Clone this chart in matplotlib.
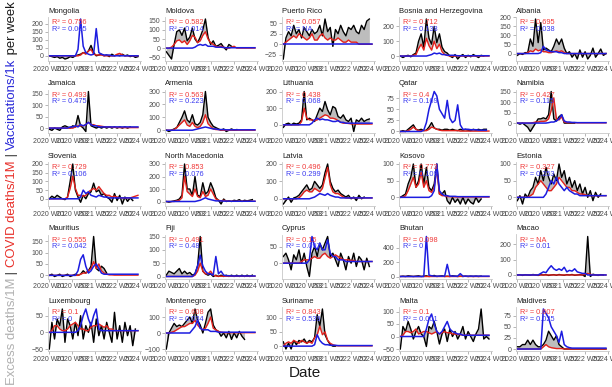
import numpy as np
import matplotlib.pyplot as plt

nan = np.nan

# weekly index from 2020 W01, one value read every 6 weeks
weeks = np.arange(0, 209, 6)

countries = ["Mongolia", "Moldova", "Puerto Rico", "Bosnia and Herzegovina", "Albania",
             "Jamaica", "Armenia", "Lithuania", "Qatar", "Namibia",
             "Slovenia", "North Macedonia", "Latvia", "Kosovo", "Estonia",
             "Mauritius", "Fiji", "Cyprus", "Bhutan", "Macao",
             "Luxembourg", "Montenegro", "Suriname", "Malta", "Maldives"]

r2_covid = ["0.756", "0.582", "0.057", "0.712", "0.695",
            "0.493", "0.563", "0.438", "0.4", "0.427",
            "0.729", "0.853", "0.496", "0.773", "0.327",
            "0.555", "0.491", "0.15", "0.098", "NA",
            "0.1", "0.608", "0.843", "0.1", "0.607"]
r2_vax = ["0.005", "0.014", "NA", "0.138", "0.038",
          "0.475", "0.223", "0.068", "0.169", "0.115",
          "0.106", "0.076", "0.299", "0.109", "0.253",
          "0.042", "0.48", "0.097", "0", "0.01",
          "0", "0.034", "0.539", "0.001", "0.025"]

y_ticks = {
    "Mongolia": [0, 50, 100, 150, 200], "Moldova": [-50, 0, 50, 100, 150],
    "Puerto Rico": [-25, 0, 25, 50], "Bosnia and Herzegovina": [0, 100, 200, 300],
    "Albania": [-50, 0, 50, 100, 150, 200], "Jamaica": [0, 50, 100, 150],
    "Armenia": [0, 100, 200, 300], "Lithuania": [0, 100, 200], "Qatar": [0, 25, 50, 75],
    "Namibia": [0, 50, 100, 150], "Slovenia": [-50, 0, 50, 100, 150, 200],
    "North Macedonia": [0, 100, 200, 300], "Latvia": [0, 100, 200], "Kosovo": [0, 50, 100],
    "Estonia": [-50, 0, 50, 100, 150], "Mauritius": [0, 50, 100, 150],
    "Fiji": [0, 50, 100, 150], "Cyprus": [-50, 0, 50], "Bhutan": [0, 200, 400, 600],
    "Macao": [0, 100, 200], "Luxembourg": [-50, 0, 50], "Montenegro": [-100, 0, 100],
    "Suriname": [0, 50, 100], "Malta": [-50, 0, 50, 100], "Maldives": [0, 25, 50, 75],
}

excess = {
    "Mongolia": [0, -5, -10, -5, -15, -10, -20, -15, -5, -10, 0, 5, 10, 20, 15, 30, 65, 20, 0, 5, 10, 0, 5, -5, 10, 0, 5, 0, 10, 0, 5, -5, 0, -10, -5],
    "Moldova": [-20, -40, -60, 20, 90, 100, 70, 110, 40, 60, 110, 50, 30, 60, 100, 160, 60, 20, 40, 10, 15, 25, 5, -10, 20, 10, nan, nan, nan, nan, nan, nan, nan, nan, nan],
    "Puerto Rico": [-35, 15, 30, 20, 45, 25, 35, 15, 40, 30, 20, 35, 25, 30, 45, 20, 60, 30, 40, -5, 35, 25, 45, 30, 20, 40, 35, 45, 30, 25, 45, 35, 55, 60, nan],
    "Bosnia and Herzegovina": [0, -10, 0, 5, -5, 10, 20, 100, 150, 60, 250, 120, 80, 200, 90, 150, 60, 30, 20, 0, -10, 10, -20, 0, 10, -10, 5, -5, 10, 0, -10, 5, 0, nan, nan],
    "Albania": [-10, 0, -5, 5, 5, 80, 40, 190, 60, 170, 20, 30, 20, 10, 40, 80, 50, 80, 30, 0, 10, -20, 0, -30, 20, -20, 10, -30, -10, 30, -20, 0, 25, -10, 0],
    "Jamaica": [-5, -10, 0, -5, -10, 5, 10, 5, 0, 10, 5, 55, 10, 0, -15, 160, 10, 5, 0, 5, 0, 5, 0, 5, 0, 5, 0, 5, 0, 5, 0, 5, nan, nan, nan],
    "Armenia": [0, -10, 0, 10, 20, 60, 100, 150, 80, 60, 120, 50, 40, 60, 120, 300, 100, 60, 30, 20, 10, 0, 10, -10, 0, 10, 0, 5, nan, nan, nan, nan, nan, nan, nan],
    "Lithuania": [-15, 5, 10, 0, 10, 5, 10, 30, 200, 30, 40, 30, 20, 60, 100, 80, 140, 90, 60, 110, 100, 50, 40, 60, 30, 20, 40, -40, 30, 20, 40, 20, 30, 35, nan],
    "Qatar": [0, 2, 0, 5, 10, 15, 5, 3, 5, 2, 3, 10, 20, 8, 5, 5, 3, 5, 5, 3, 5, 3, 2, 5, 3, 5, 3, 2, 5, 3, 5, 3, 5, 5, nan],
    "Namibia": [0, -5, 0, -10, -20, -40, -20, 0, 20, 20, 25, 20, 40, 150, 20, 10, 30, 40, 0, 0, 0, 0, 0, nan, nan, nan, nan, nan, nan, nan, nan, nan, nan, nan, nan],
    "Slovenia": [0, 15, 5, 20, 10, 0, -5, 10, 100, 200, 50, 10, -20, 20, 0, 30, 40, 90, 40, 50, 20, 30, 10, 0, -20, 30, -10, 20, -30, 10, -15, 5, -10, nan, nan],
    "North Macedonia": [0, -5, 0, 5, 10, 20, 50, 300, 100, 100, 50, 200, 50, 40, 150, 60, 80, 150, 100, 30, 10, -20, 20, 0, 5, 0, 10, 5, 15, 0, 10, 5, 10, 15, nan],
    "Latvia": [-30, -10, 10, -20, 5, 10, 20, 40, 60, 80, 50, 60, 100, 80, 60, 80, 150, 200, 100, 60, 40, 50, 30, 20, 10, 20, 0, 10, -10, 20, 0, 10, nan, nan, nan],
    "Kosovo": [0, 5, 10, 40, 60, 100, 30, 50, 100, 40, 90, 30, 20, 40, 100, 10, 10, 20, -10, -20, 0, -15, -5, -20, 0, -20, -5, -15, -20, 0, -15, -5, nan, nan, nan],
    "Estonia": [-10, 5, -20, 10, 0, 20, 30, 60, 40, 80, 50, 90, 60, 40, 70, 50, 100, 60, 80, 40, 60, 30, 50, 20, 40, 10, 30, 0, 20, -10, 15, 0, 10, nan, nan],
    "Mauritius": [0, 5, -5, 0, 5, -5, 0, 5, -5, 0, 5, 0, 5, 20, 10, 20, 40, 170, 30, 20, 40, 30, 10, nan, nan, nan, nan, nan, nan, nan, nan, nan, nan, nan, nan],
    "Fiji": [5, 20, 15, 10, 20, 30, 10, 20, 10, 15, 5, 10, 40, 150, 20, 10, 5, 10, 0, 5, 0, 5, 0, 5, 0, 5, 0, 5, 0, 5, 0, 5, 0, 5, nan],
    "Cyprus": [20, 30, 10, -20, 25, 10, 40, 0, 30, -10, -40, 30, 50, 20, 60, 40, 60, 80, 20, 30, 10, -10, 30, 10, -20, 20, 0, 30, -10, 20, 10, -20, 15, -10, nan],
    "Bhutan": [0, 5, 0, 10, 5, 0, 5, 10, 0, 5, 10, 0, 5, 15, 0, 5, 10, 0, 5, 0, 10, 5, 0, 5, 0, 5, 0, 5, 0, 5, 0, 5, nan, nan, nan],
    "Macao": [0, 2, -3, 2, 0, -2, 3, 0, -3, 2, 0, 2, -3, 0, 2, -2, 3, 0, -2, 2, 0, 3, -2, 0, 2, 0, -10, 250, -10, 5, 0, -3, 2, 0, nan],
    "Luxembourg": [-50, 30, -20, 40, 20, 70, -30, 40, 20, -20, 30, -10, 50, -20, 20, 0, 30, -30, 40, -10, 20, -20, 30, 0, -30, 60, -20, 20, -30, 30, -10, 20, -40, 10, nan],
    "Montenegro": [-100, 0, 30, 60, 40, 50, 40, 60, 80, 100, 60, 150, 80, 50, 0, 60, 130, 150, 50, 20, 10, -20, 0, -30, 10, -40, 0, -30, 10, -20, -40, nan, nan, nan, nan],
    "Suriname": [15, -10, 10, -10, 20, 5, 20, 15, 25, 10, 20, 15, 30, 110, 70, 130, 40, 20, 5, 0, 0, nan, nan, nan, nan, nan, nan, nan, nan, nan, nan, nan, nan, nan, nan],
    "Malta": [-50, 40, 20, 60, 30, -10, 20, 40, 10, 0, -40, 40, 30, 60, 20, -30, 10, 30, -20, 30, 0, 20, -10, 10, 40, -10, 20, 0, -20, 10, 30, 110, -10, 0, -10],
    "Maldives": [5, 5, 10, 10, 20, 10, 20, 10, 5, 5, 10, 20, 40, 30, 20, 30, 10, 5, 0, 0, 0, 0, 0, 0, 0, 0, 0, 0, 0, 0, 0, 0, 0, 0, 0],
}

covid = {
    "Mongolia": [0, 0, 0, 0, 0, 0, 0, 0, 0, 0, 0, 0, 5, 20, 10, 30, 40, 10, 5, 5, 5, 0, 0, 0, 0, 0, 10, 15, 5, 0, 0, 0, 0, 0, 0],
    "Moldova": [0, 0, 5, 20, 40, 45, 30, 40, 20, 40, 70, 60, 30, 40, 70, 90, 50, 30, 20, 10, 5, 10, 5, 0, 0, 5, 10, 0, 0, 0, 0, 0, 0, 0, 0],
    "Puerto Rico": [0, 5, 10, 15, 20, 15, 25, 20, 15, 10, 15, 25, 10, 10, 20, 25, 15, 10, 15, 10, 10, 15, 10, 5, 5, 10, 5, 5, 5, 0, 0, 0, 0, 0, 0],
    "Bosnia and Herzegovina": [0, 0, 0, 0, 0, 5, 10, 50, 80, 40, 120, 70, 40, 100, 50, 80, 30, 10, 5, 0, 0, 0, 0, 0, 0, 0, 0, 0, 0, 0, 0, 0, 0, 0, 0],
    "Albania": [0, 0, 0, 0, 5, 15, 10, 25, 15, 20, 10, 10, 5, 5, 10, 15, 10, 15, 5, 0, 0, 0, 0, 0, 0, 0, 0, 0, 0, 0, 0, 0, 0, 0, 0],
    "Jamaica": [0, 0, 0, 0, 0, 0, 0, 0, 0, 0, 5, 10, 10, 10, 15, 25, 15, 15, 10, 10, 8, 6, 5, 5, 4, 3, 3, 2, 2, 2, 2, 2, 2, 2, 2],
    "Armenia": [0, 0, 0, 5, 20, 40, 60, 80, 40, 30, 60, 30, 20, 30, 60, 120, 50, 30, 10, 5, 5, 0, 0, 0, 0, 0, 0, 0, 0, 0, 0, 0, 0, 0, 0],
    "Lithuania": [0, 0, 0, 0, 0, 0, 0, 20, 100, 40, 30, 30, 25, 30, 40, 50, 60, 55, 40, 40, 35, 25, 15, 10, 10, 8, 6, 5, 5, 5, 5, 5, 5, 5, 5],
    "Qatar": [0, 0, 0, 2, 5, 10, 5, 2, 2, 2, 2, 5, 10, 8, 5, 3, 2, 2, 2, 2, 2, 2, 2, 1, 1, 1, 1, 1, 1, 1, 1, 1, 1, 1, 1],
    "Namibia": [0, 0, 0, 0, 0, 0, 2, 5, 5, 8, 8, 10, 20, 60, 120, 20, 15, 30, 5, 2, 2, 2, 2, 1, 1, 1, 1, 1, 1, 1, 1, 1, 1, 1, 1],
    "Slovenia": [0, 0, 0, 0, 0, 0, 0, 10, 60, 130, 60, 20, 20, 15, 20, 40, 50, 60, 50, 70, 50, 30, 20, 20, 10, 15, 10, 5, 5, 5, 5, 5, 10, 15, 20],
    "North Macedonia": [0, 0, 0, 0, 5, 10, 30, 200, 80, 60, 40, 100, 40, 30, 80, 40, 50, 100, 60, 20, 10, 5, 10, 5, 3, 2, 2, 2, 2, 2, 2, 2, 2, 2, 2],
    "Latvia": [0, 0, 0, 0, 0, 0, 5, 20, 40, 50, 40, 40, 60, 50, 40, 60, 120, 180, 80, 40, 30, 30, 20, 10, 5, 5, 5, 5, 5, 5, 5, 5, 5, 5, 5],
    "Kosovo": [0, 0, 5, 20, 40, 60, 30, 40, 75, 30, 50, 20, 15, 30, 85, 10, 5, 5, 2, 2, 2, 1, 1, 1, 1, 1, 1, 1, 1, 1, 1, 1, 1, 1, 1],
    "Estonia": [0, 0, 0, 0, 0, 5, 10, 30, 40, 50, 40, 30, 20, 20, 30, 40, 60, 50, 40, 30, 30, 20, 20, 15, 10, 10, 8, 5, 5, 5, 5, 5, 5, 5, 5],
    "Mauritius": [0, 0, 0, 0, 0, 0, 0, 0, 0, 0, 0, 0, 5, 10, 10, 20, 30, 60, 30, 50, 20, 10, 5, 2, 2, 1, 1, 1, 1, 1, 1, 1, 1, 1, 1],
    "Fiji": [0, 0, 0, 0, 0, 0, 0, 0, 0, 0, 0, 5, 20, 50, 20, 10, 10, 20, 5, 2, 1, 1, 1, 1, 1, 1, 1, 1, 1, 1, 1, 1, 1, 1, 1],
    "Cyprus": [0, 0, 0, 0, 0, 0, 0, 5, 10, 10, 10, 15, 20, 15, 15, 25, 30, 20, 15, 20, 25, 20, 15, 10, 10, 10, 8, 8, 5, 5, 5, 5, 5, 5, 5],
    "Bhutan": [0, 0, 0, 0, 0, 0, 0, 0, 0, 0, 0, 0, 0, 0, 0, 0, 0, 0, 0, 0, 0, 0, 0, 2, 2, 2, 0, 0, 0, 0, 0, 0, 0, 0, 0],
    "Macao": [0, 0, 0, 0, 0, 0, 0, 0, 0, 0, 0, 0, 0, 0, 0, 0, 0, 0, 0, 0, 0, 0, 0, 0, 0, 0, 5, 10, 5, 0, 0, 0, 0, 0, 0],
    "Luxembourg": [0, 5, 20, 20, 10, 5, 5, 10, 20, 25, 30, 20, 10, 10, 5, 5, 15, 20, 20, 25, 20, 15, 20, 10, 10, 5, 5, 5, 5, 5, 5, 5, 5, 5, 5],
    "Montenegro": [0, 0, 5, 10, 20, 30, 40, 40, 50, 60, 60, 80, 50, 30, 20, 30, 60, 100, 30, 20, 10, 5, 3, 2, 2, 2, 2, 2, 2, 2, 2, 2, 2, 2, 2],
    "Suriname": [0, 10, 15, 10, 20, 15, 10, 20, 15, 10, 15, 10, 30, 40, 70, 40, 50, 20, 10, 5, 2, 1, 1, 1, 1, 1, 1, 1, 1, 1, 1, 1, 1, 1, 1],
    "Malta": [0, 5, 20, 20, 15, 20, 30, 10, 15, 20, 20, 15, 10, 15, 20, 10, 15, 20, 15, 15, 10, 10, 8, 8, 5, 5, 5, 5, 5, 5, 5, 5, 5, 5, 5],
    "Maldives": [0, 0, 0, 0, 0, 0, 0, 0, 0, 0, 5, 10, 5, 3, 2, 1, 1, 1, 0, 0, 0, 0, 0, 0, 0, 0, 0, 0, 0, 0, 0, 0, 0, 0, 0],
}

vaccinations = {
    "Mongolia": [0, 0, 0, 0, 0, 0, 0, 0, 0, 0, 0, 40, 230, 60, 20, 10, 5, 10, 170, 20, 10, 5, 5, 5, 0, 0, 0, 0, 0, 0, 0, 0, 0, 0, 0],
    "Moldova": [0, 0, 0, 0, 0, 0, 0, 0, 0, 0, 0, 5, 15, 20, 15, 20, 10, 10, 10, 5, 5, 5, 3, 2, 2, 2, 2, 2, 2, 2, 2, 2, 2, 2, 2],
    "Puerto Rico": [0, 0, 0, 0, 0, 0, 0, 0, 0, 0, 0, 0, 0, 0, 0, 0, 0, 0, 0, 0, 0, 0, 0, 0, 0, 0, 0, 0, 0, 0, 0, 0, 0, 0, 0],
    "Bosnia and Herzegovina": [0, 0, 0, 0, 0, 0, 0, 0, 0, 0, 0, 5, 10, 20, 15, 20, 10, 10, 5, 5, 5, 5, 2, 2, 2, 2, 2, 2, 2, 2, 2, 2, 2, 2, 2],
    "Albania": [0, 0, 0, 0, 0, 0, 0, 0, 0, 5, 40, 20, 15, 10, 10, 10, 5, 5, 0, 0, 0, 0, 0, 0, 0, 0, 0, 0, 0, 0, 0, 0, 0, 0, 0],
    "Jamaica": [0, 0, 0, 0, 0, 0, 0, 0, 5, 5, 10, 5, 15, 10, 15, 25, 15, 10, 10, 5, 5, 5, 5, 5, 5, 5, 5, 5, 5, 5, 5, 5, 5, 5, 5],
    "Armenia": [0, 0, 0, 0, 0, 0, 0, 0, 0, 0, 0, 5, 10, 15, 20, 25, 20, 15, 10, 10, 5, 5, 5, 3, 3, 3, 3, 3, 3, 3, 3, 3, 3, 3, 3],
    "Lithuania": [0, 0, 0, 0, 0, 0, 0, 0, 0, 0, 0, 10, 30, 40, 30, 35, 30, 30, 25, 20, 20, 25, 15, 15, 10, 10, 10, 10, 10, 10, 10, 10, 10, 10, 10],
    "Qatar": [0, 0, 0, 0, 0, 0, 0, 0, 0, 3, 20, 50, 70, 90, 80, 50, 40, 30, 70, 30, 20, 25, 60, 15, 5, 5, 5, 4, 4, 4, 3, 3, 3, 3, nan],
    "Namibia": [0, 0, 0, 0, 0, 0, 0, 0, 0, 0, 0, 0, 2, 5, 5, 10, 20, 40, 10, 5, 5, 3, 3, 2, 2, 2, 2, 2, 2, 2, 2, 2, 2, 2, 2],
    "Slovenia": [0, 0, 0, 0, 0, 0, 0, 0, 0, 0, 0, 0, 10, 50, 30, 40, 20, 15, 10, 20, 15, 10, 10, 5, 5, 5, 5, 5, 5, 5, 5, 5, 5, 5, 5],
    "North Macedonia": [0, 0, 0, 0, 0, 0, 0, 0, 0, 0, 0, 0, 5, 10, 20, 30, 20, 15, 10, 5, 5, 5, 3, 3, 3, 2, 2, 2, 2, 2, 2, 2, 2, 2, 2],
    "Latvia": [0, 0, 0, 0, 0, 0, 0, 0, 0, 0, 0, 5, 10, 20, 30, 25, 20, 30, 20, 15, 10, 10, 5, 5, 5, 5, 5, 5, 5, 5, 5, 5, 5, 5, 5],
    "Kosovo": [0, 0, 0, 0, 0, 0, 0, 0, 0, 0, 0, 0, 5, 20, 100, 20, 10, 5, 5, 3, 3, 3, 2, 2, 2, 2, 2, 2, 2, 2, 2, 2, 2, 2, 2],
    "Estonia": [0, 0, 0, 0, 0, 0, 0, 0, 0, 0, 0, 10, 30, 50, 40, 60, 40, 30, 20, 30, 20, 15, 10, 10, 5, 5, 5, 5, 5, 5, 5, 5, 5, 5, 5],
    "Mauritius": [0, 0, 0, 0, 0, 0, 0, 0, 0, 0, 0, 20, 70, 90, 40, 10, 20, 40, 50, 30, 10, 5, 5, 5, 5, 5, 5, 5, 5, 5, 5, 5, 5, 5, 5],
    "Fiji": [0, 0, 0, 0, 0, 0, 0, 0, 0, 0, 0, 10, 40, 80, 40, 20, 10, 10, 5, 75, 10, 20, 5, 3, 3, 2, 2, 2, 2, 2, 2, 2, 2, 2, 2],
    "Cyprus": [0, 0, 0, 0, 0, 0, 0, 0, 0, 0, 10, 80, 50, 40, 60, 40, 40, 70, 30, 20, 20, 10, 10, 10, 5, 5, 5, 5, 5, 5, 5, 5, 5, 5, 5],
    "Bhutan": [0, 0, 0, 0, 0, 0, 0, 0, 0, 0, 560, 20, 10, 5, 5, 5, 5, 5, 170, 10, 5, 5, 5, 40, 5, 5, 5, 5, 5, 5, 5, 5, 5, 5, 5],
    "Macao": [0, 0, 0, 0, 0, 0, 0, 0, 0, 10, 20, 15, 40, 60, 40, 30, 40, 30, 50, 20, 30, 25, 40, 20, 15, 10, 10, 0, 0, 0, 0, 0, 0, 0, 0],
    "Luxembourg": [0, 0, 0, 0, 0, 0, 0, 0, 0, 0, 0, 5, 20, 50, 70, 40, 20, 50, 70, 10, 5, 5, 5, 5, 5, 5, 5, 5, 5, 5, 5, 5, 5, 5, 5],
    "Montenegro": [0, 0, 0, 0, 0, 0, 0, 0, 0, 0, 20, 40, 80, 30, 20, 20, 20, 10, 10, 10, 5, 5, 5, 5, 5, 5, 5, 5, 5, 5, 5, 5, 5, 5, 5],
    "Suriname": [0, 0, 0, 0, 0, 0, 0, 0, 0, 0, 0, 0, 5, 40, 20, 10, 5, 5, 3, 3, 3, 2, 2, 2, 2, 2, 2, 2, 2, 2, 2, 2, 2, 2, 2],
    "Malta": [0, 0, 0, 0, 0, 0, 0, 0, 0, 0, 30, 70, 90, 50, 20, 10, 20, 40, 60, 30, 20, 15, 10, 10, 5, 5, 5, 5, 5, 5, 5, 5, 5, 5, 5],
    "Maldives": [0, 0, 0, 0, 0, 0, 0, 0, 0, 0, 90, 80, 70, 50, 40, 30, 15, 40, 10, 5, 3, 2, 2, 2, 2, 2, 2, 2, 2, 2, 2, 2, 2, 2, 2],
}

tick_weeks = [0, 52, 104, 156, 208]
tick_labels = ["2020 W01", "2020 W53", "2021 W52", "2022 W52", "2024 W01"]

plt.rcParams['font.family'] = ['Liberation Sans', 'DejaVu Sans']

W, H = 612, 387
fig = plt.figure(figsize=(W / 100, H / 100), dpi=100)

for k, name in enumerate(countries):
    row, col = divmod(k, 5)
    left = 48 + 117 * col
    top = 17 + 72.5 * row
    ax = fig.add_axes([left / W, 1 - (top + 44) / H, 93 / W, 44 / H])

    ex = np.array(excess[name], dtype=float)
    cv = np.array(covid[name], dtype=float)
    vx = np.array(vaccinations[name], dtype=float)

    ax.fill_between(weeks, cv, ex, color='#bdbdbd', lw=0)
    ax.plot(weeks, ex, color='black', lw=1.0)
    ax.plot(weeks, cv, color='#e3211c', lw=1.0)
    ax.plot(weeks, vx, color='#1c1ce0', lw=1.1)

    allv = np.concatenate([ex, cv, vx])
    lo, hi = np.nanmin(allv), np.nanmax(allv)
    pad = 0.05 * (hi - lo)
    ax.set_ylim(lo - pad, hi + pad)
    ax.set_yticks([t for t in y_ticks[name] if lo - pad <= t <= hi + pad])
    ax.set_xlim(-3, 211)
    ax.set_xticks(tick_weeks)
    ax.set_xticklabels(tick_labels)

    for s in ['top', 'right']:
        ax.spines[s].set_visible(False)
    for s in ['left', 'bottom']:
        ax.spines[s].set_color('#c8c8c8')
        ax.spines[s].set_linewidth(0.6)
    ax.tick_params(labelsize=5, length=2, width=0.5, color='#999999',
                   labelcolor='#4d4d4d', pad=1.5)

    ax.set_title(name, loc='left', fontsize=5.5, pad=3, color='#1a1a1a')
    ax.text(0.04, 0.95, "R² = " + r2_covid[k], transform=ax.transAxes,
            color='#f03a3a', fontsize=5.3, va='top')
    ax.text(0.04, 0.80, "R² = " + r2_vax[k], transform=ax.transAxes,
            color='#3a3af0', fontsize=5.3, va='top')

fig.text(0.498, (H - 373) / H, "Date", ha='center', va='center', fontsize=11, color='#1a1a1a')

# multi-coloured y label, stacked from the bottom up
pieces = [("Excess deaths/1M", '#b0b0b0'), (" | ", '#404040'),
          ("COVID deaths/1M", '#e8302a'), (" | ", '#404040'),
          ("Vaccinations/1k", '#2a2ad8'), (" per week", '#1a1a1a')]
renderer = fig.canvas.get_renderer()
size = 10
total = 0
for s, c in pieces:
    t = fig.text(0, 0, s, rotation=90, fontsize=size)
    total += t.get_window_extent(renderer).height
    t.remove()
size = size * 382 / total
y_px = 2
for s, c in pieces:
    t = fig.text(12 / W, y_px / H, s, rotation=90, fontsize=size, color=c,
                 ha='center', va='bottom')
    y_px += t.get_window_extent(renderer).height

fig.savefig("out.png", dpi=100)
